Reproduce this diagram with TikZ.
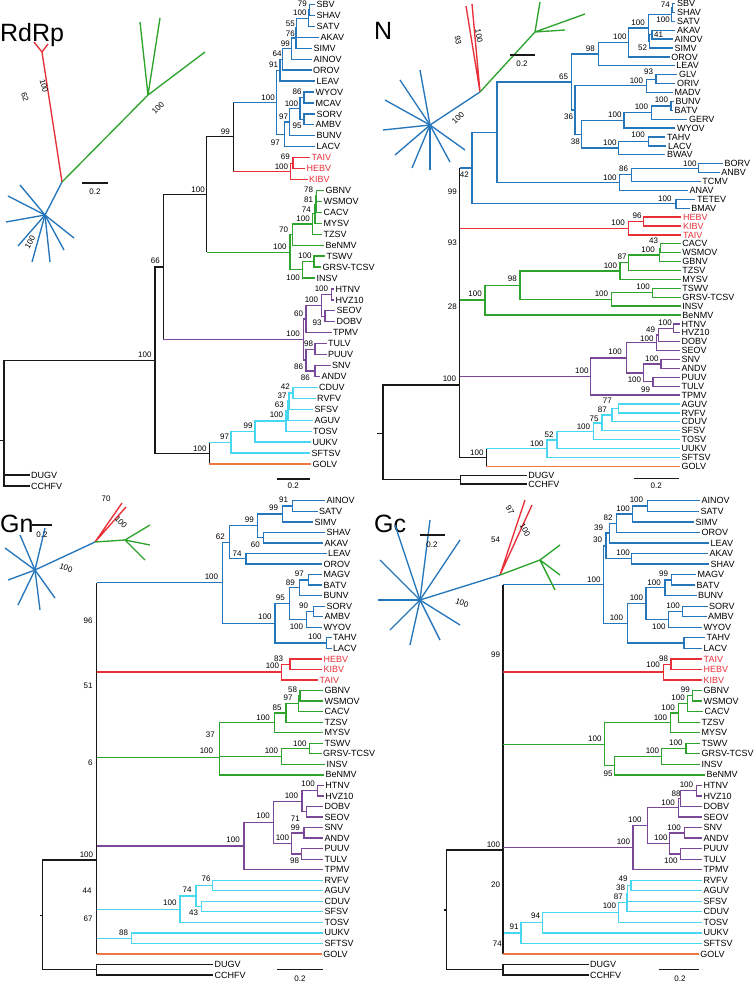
\documentclass[tikz,border=0pt]{standalone}
\usepackage{fontspec}
\setmainfont{Liberation Sans}
\definecolor{Cb}{RGB}{38,118,188}
\definecolor{Cr}{RGB}{232,48,56}
\definecolor{Cg}{RGB}{46,164,46}
\definecolor{Cp}{RGB}{122,72,152}
\definecolor{Cc}{RGB}{72,214,240}
\definecolor{Co}{RGB}{236,120,64}
\definecolor{Ck}{RGB}{25,25,25}
\newcount\bsc
\newcommand\tp[5][]{\coordinate (#2) at (#4,#5);\node[tl,#1] (#2t) at (#2) {#3};}
\newcommand\bs[3]{\global\advance\bsc by 1\relax\node[bsl] (bs\the\bsc) at (#1,#2) {#3};}
\newcommand\br[3]{\foreach \ch in {#3}{\draw[#1] (#2) |- (\ch);}}
\newcommand\cl[3]{\draw[bk] (#2) -- (#2 |- #3);\draw[#1] (#2 |- #3) -- (#3);}
\tikzset{
 tl/.style={anchor=west,inner sep=1.5pt,font=\fontsize{9}{10}\selectfont},
 bsl/.style={anchor=east,inner sep=0pt,font=\fontsize{8}{9}\selectfont},
 rl/.style={inner sep=0pt,font=\fontsize{8}{9}\selectfont},
 ttl/.style={anchor=base west,inner sep=0pt,font=\fontsize{25}{25}\selectfont},
 lb/.style={draw=Cb,line width=1.35pt},
 lr/.style={draw=Cr,line width=1.35pt},
 lg/.style={draw=Cg,line width=1.35pt},
 lp/.style={draw=Cp,line width=1.35pt},
 lc/.style={draw=Cc,line width=1.35pt},
 lo/.style={draw=Co,line width=1.35pt},
 bk/.style={draw=Ck,line width=1.35pt},
 sbar/.style={draw=Ck,line width=1.35pt},
}
\begin{document}
\begin{tikzpicture}[x=1pt,y=-1pt]
\useasboundingbox (0,0) rectangle (754,983);
% ================= RdRp =================
\node[ttl] (tA) at (0,41) {RdRp};
\tp{aSBV}{SBV}{315}{4.5}
\tp{aSHAV}{SHAV}{315}{15.4}
\tp{aSATV}{SATV}{315}{26.4}
\tp{aAKAV}{AKAV}{319}{37.3}
\tp{aSIMV}{SIMV}{312}{48.3}
\tp{aAINOV}{AINOV}{312}{59.2}
\tp{aOROV}{OROV}{311.5}{70.1}
\tp{aLEAV}{LEAV}{315}{81.1}
\tp{aWYOV}{WYOV}{314}{92}
\tp{aMCAV}{MCAV}{314}{103}
\tp{aSORV}{SORV}{315}{113.9}
\tp{aAMBV}{AMBV}{314}{124.8}
\tp{aBUNV}{BUNV}{315}{135.8}
\tp{aLACV}{LACV}{315}{146.7}
\tp[text=Cr]{aTAIV}{TAIV}{310}{157.7}
\tp[text=Cr]{aHEBV}{HEBV}{305}{168.6}
\tp[text=Cr]{aKIBV}{KIBV}{307.5}{179.5}
\tp{aGBNV}{GBNV}{324}{190.5}
\tp{aWSMOV}{WSMOV}{322}{201.4}
\tp{aCACV}{CACV}{322}{212.4}
\tp{aMYSV}{MYSV}{322}{223.3}
\tp{aTZSV}{TZSV}{322}{234.2}
\tp{aBeNMV}{BeNMV}{324}{245.2}
\tp{aTSWV}{TSWV}{325}{256.1}
\tp{aGRSV}{GRSV-TCSV}{321}{267.1}
\tp{aINSV}{INSV}{315}{278}
\tp{aHTNV}{HTNV}{334}{289}
\tp{aHVZ}{HVZ10}{334}{299.9}
\tp{aSEOV}{SEOV}{335}{310.8}
\tp{aDOBV}{DOBV}{335}{321.8}
\tp{aTPMV}{TPMV}{331.5}{332.7}
\tp{aTULV}{TULV}{326.5}{343.7}
\tp{aPUUV}{PUUV}{326.5}{354.6}
\tp{aSNV}{SNV}{330.5}{365.5}
\tp{aANDV}{ANDV}{320}{376.5}
\tp{aCDUV}{CDUV}{317.5}{387.4}
\tp{aRVFV}{RVFV}{315.5}{398.4}
\tp{aSFSV}{SFSV}{313}{409.3}
\tp{aAGUV}{AGUV}{313}{420.2}
\tp{aTOSV}{TOSV}{311.5}{431.2}
\tp{aUUKV}{UUKV}{311}{442.1}
\tp{aSFTSV}{SFTSV}{310}{453.1}
\tp{aGOLV}{GOLV}{311}{464}
\tp{aDUGV}{DUGV}{29.5}{474.9}
\tp{aCCHFV}{CCHFV}{29.5}{485.9}
\coordinate (a79) at (309.3,9.95);
\coordinate (a100s) at (308.3,18.2);
\coordinate (a55) at (296.7,27.7);
\coordinate (a76) at (296,38);
\coordinate (a99) at (291.7,48.6);
\coordinate (a64) at (282.7,59.4);
\coordinate (a91) at (280,70.2);
\coordinate (a86) at (304,97.5);
\coordinate (a95) at (304,119.4);
\coordinate (a100w) at (300,108.4);
\coordinate (a97a) at (289.3,122.1);
\coordinate (a97b) at (284.3,134.4);
\coordinate (aA) at (276.7,102.3);
\coordinate (aR2) at (293,163.2);
\coordinate (aR1) at (290.5,171.3);
\coordinate (a99b) at (233.3,136.8);
\coordinate (aG78) at (316.7,196);
\coordinate (aG81) at (316,204.2);
\coordinate (aG74) at (315,213.7);
\coordinate (aG100a) at (312.5,224);
\coordinate (aG70) at (292.3,234.6);
\coordinate (aG100b) at (314,261.6);
\coordinate (aG100c) at (302.7,269.8);
\coordinate (aG) at (290,252.2);
\coordinate (aN100) at (206.7,194.5);
\coordinate (aP1) at (331.7,294.5);
\coordinate (aP2) at (325,316.3);
\coordinate (aP3) at (321.7,305.4);
\coordinate (aP4) at (306,319);
\coordinate (aP5) at (315,349.2);
\coordinate (aP6) at (315,371);
\coordinate (aP7) at (306,360.1);
\coordinate (aP) at (303.3,339.6);
\coordinate (a66) at (163.3,267);
\coordinate (aC5) at (293,392.9);
\coordinate (aC4) at (289,401.1);
\coordinate (aC3) at (288,410.7);
\coordinate (aC2) at (286,420.9);
\coordinate (aC1) at (255,431.5);
\coordinate (aC0) at (231,442.3);
\coordinate (aNb) at (209.3,453.2);
\coordinate (aN1) at (155,360.3);
\coordinate (aRt) at (4,440.7);
\coordinate (aRs) at (0,440.7);
\br{lb}{a79}{aSBV,aSHAV}
\br{lb}{a100s}{a79,aSATV}
\br{lb}{a55}{a100s,aAKAV}
\br{lb}{a76}{a55,aSIMV}
\br{lb}{a99}{a76,aAINOV}
\br{lb}{a64}{a99,aOROV}
\br{lb}{a91}{a64,aLEAV}
\br{lb}{a86}{aWYOV,aMCAV}
\br{lb}{a95}{aSORV,aAMBV}
\br{lb}{a100w}{a86,a95}
\br{lb}{a97a}{a100w,aBUNV}
\br{lb}{a97b}{a97a,aLACV}
\br{lb}{aA}{a91,a97b}
\br{lr}{aR2}{aTAIV,aHEBV}
\br{lr}{aR1}{aR2,aKIBV}
\cl{lb}{a99b}{aA}
\cl{lr}{a99b}{aR1}
\br{lg}{aG78}{aGBNV,aWSMOV}
\br{lg}{aG81}{aG78,aCACV}
\br{lg}{aG74}{aG81,aMYSV}
\br{lg}{aG100a}{aG74,aTZSV}
\br{lg}{aG70}{aG100a,aBeNMV}
\br{lg}{aG100b}{aTSWV,aGRSV}
\br{lg}{aG100c}{aG100b,aINSV}
\br{lg}{aG}{aG70,aG100c}
\cl{lg}{aN100}{aG}
\br{bk}{aN100}{a99b}
\br{lp}{aP1}{aHTNV,aHVZ}
\br{lp}{aP2}{aSEOV,aDOBV}
\br{lp}{aP3}{aP1,aP2}
\br{lp}{aP4}{aP3,aTPMV}
\br{lp}{aP5}{aTULV,aPUUV}
\br{lp}{aP6}{aSNV,aANDV}
\br{lp}{aP7}{aP5,aP6}
\br{lp}{aP}{aP4,aP7}
\br{bk}{a66}{aN100}
\cl{lp}{a66}{aP}
\br{lc}{aC5}{aCDUV,aRVFV}
\br{lc}{aC4}{aC5,aSFSV}
\br{lc}{aC3}{aC4,aAGUV}
\br{lc}{aC2}{aC3,aTOSV}
\br{lc}{aC1}{aC2,aUUKV}
\br{lc}{aC0}{aC1,aSFTSV}
\cl{lc}{aNb}{aC0}
\cl{lo}{aNb}{aGOLV}
\br{bk}{aN1}{a66,aNb}
\br{bk}{aRt}{aN1,aDUGV,aCCHFV}
\draw[bk] (aRs) -- (aRt);
\bs{307}{3.5}{79}\bs{306.7}{12.7}{100}\bs{295}{23.3}{55}\bs{295}{33.3}{76}
\bs{290}{43.3}{99}\bs{281.7}{53.3}{64}\bs{278.3}{65}{91}\bs{275}{97.3}{100}
\bs{301.7}{91.7}{86}\bs{298.3}{103.3}{100}\bs{288.3}{116.7}{97}\bs{301.7}{126}{95}
\bs{280}{142.7}{97}\bs{230}{131.7}{99}\bs{290}{156.7}{69}\bs{288.3}{166.5}{100}
\bs{205}{189.3}{100}\bs{313.3}{190}{78}\bs{313.3}{199.3}{81}\bs{311}{209.3}{74}
\bs{310}{219}{100}\bs{288.3}{230}{70}\bs{286.7}{246.7}{100}\bs{311.7}{256}{100}
\bs{300}{277.7}{100}\bs{328.3}{289}{100}\bs{318.3}{300}{100}\bs{303.3}{314}{60}
\bs{321.7}{322.3}{93}\bs{160}{261}{66}\bs{300}{334}{100}\bs{313.3}{343.3}{98}
\bs{303.3}{366.7}{86}\bs{310}{377.3}{86}\bs{151.7}{354.3}{100}\bs{290}{386.7}{42}
\bs{286.7}{395.7}{37}\bs{284}{405}{63}\bs{283.3}{415}{100}\bs{252.7}{426}{99}
\bs{229.3}{436.7}{97}\bs{206.7}{448.3}{100}
\coordinate (aS1) at (276.7,479);\coordinate (aS2) at (310,479);
\draw[sbar] (aS1) -- (aS2);
\node[rl] (aSl) at (293.3,486) {0.2};
% inset RdRp
\coordinate (aiB) at (45,215);\coordinate (aiJ) at (62,182);
\coordinate (aiR) at (42,52);\coordinate (aiG) at (148,95);
\foreach \p in {(8,196),(6,222),(18,246),(32,262),(50,262),(64,250),(74,238),(20,185)} \draw[lb] (aiB) -- \p;
\draw[lb] (aiB) -- (aiJ);
\draw[lr] (aiJ) -- (aiR) -- (34,42) (aiR) -- (48,44);
\draw[lg] (aiJ) -- (aiG) -- (140,22) (aiG) -- (205,52) (aiG)--(160,18);
\node[rl,rotate=-75] (aiL1) at (25,97) {62};
\node[rl,rotate=-75] (aiL2) at (44,86) {100};
\node[rl,rotate=45] (aiL3) at (158,108) {100};
\node[rl,rotate=60] (aiL4) at (30,242) {100};
\coordinate (aiS1) at (82,183);\coordinate (aiS2) at (108,183);
\draw[sbar] (aiS1) -- (aiS2);
\node[rl] (aiSl) at (95,192) {0.2};
% ================= N =================
\node[ttl] (tB) at (374,39) {N};
\tp{bSBV}{SBV}{675.3}{3.5}
\tp{bSHAV}{SHAV}{675.3}{12.4}
\tp{bSATV}{SATV}{675.3}{21.3}
\tp{bAKAV}{AKAV}{675.3}{30.2}
\tp{bAINOV}{AINOV}{673}{39.1}
\tp{bSIMV}{SIMV}{673}{48}
\tp{bOROV}{OROV}{669.7}{56.9}
\tp{bLEAV}{LEAV}{674.7}{65.8}
\tp{bGLV}{GLV}{677.3}{74.7}
\tp{bORIV}{ORIV}{675.3}{83.6}
\tp{bMADV}{MADV}{673}{92.5}
\tp{bBUNV}{BUNV}{674}{101.4}
\tp{bBATV}{BATV}{673}{110.3}
\tp{bGERV}{GERV}{687.3}{119.2}
\tp{bWYOV}{WYOV}{675.3}{128.1}
\tp{bTAHV}{TAHV}{665.3}{137}
\tp{bLACV}{LACV}{666.3}{145.9}
\tp{bBWAV}{BWAV}{665.3}{154.8}
\tp{bBORV}{BORV}{723}{163.7}
\tp{bANBV}{ANBV}{719.7}{172.6}
\tp{bTCMV}{TCMV}{700.7}{181.5}
\tp{bANAV}{ANAV}{688}{190.4}
\tp{bTETEV}{TETEV}{695.3}{199.3}
\tp{bBMAV}{BMAV}{689.7}{208.2}
\tp[text=Cr]{bHEBV}{HEBV}{681.3}{217.1}
\tp[text=Cr]{bKIBV}{KIBV}{681.3}{226}
\tp[text=Cr]{bTAIV}{TAIV}{681.3}{234.9}
\tp{bCACV}{CACV}{680.7}{243.8}
\tp{bWSMOV}{WSMOV}{680.7}{252.7}
\tp{bGBNV}{GBNV}{680.7}{261.6}
\tp{bTZSV}{TZSV}{680.7}{270.5}
\tp{bMYSV}{MYSV}{680.7}{279.4}
\tp{bTSWV}{TSWV}{680.7}{288.3}
\tp{bGRSV}{GRSV-TCSV}{680.7}{297.2}
\tp{bINSV}{INSV}{680.7}{306.1}
\tp{bBeNMV}{BeNMV}{680.7}{315}
\tp{bHTNV}{HTNV}{680}{323.9}
\tp{bHVZ}{HVZ10}{680}{332.8}
\tp{bDOBV}{DOBV}{680}{341.7}
\tp{bSEOV}{SEOV}{680}{350.6}
\tp{bSNV}{SNV}{680}{359.5}
\tp{bANDV}{ANDV}{680}{368.4}
\tp{bPUUV}{PUUV}{680}{377.3}
\tp{bTULV}{TULV}{680}{386.2}
\tp{bTPMV}{TPMV}{680}{395.1}
\tp{bAGUV}{AGUV}{680}{404}
\tp{bRVFV}{RVFV}{680}{412.9}
\tp{bCDUV}{CDUV}{680}{421.8}
\tp{bSFSV}{SFSV}{680}{430.7}
\tp{bTOSV}{TOSV}{680}{439.6}
\tp{bUUKV}{UUKV}{680}{448.5}
\tp{bSFTSV}{SFTSV}{680}{457.4}
\tp{bGOLV}{GOLV}{680}{466.3}
\tp{bDUGV}{DUGV}{526.7}{475.2}
\tp{bCCHFV}{CCHFV}{526.7}{484.1}
\coordinate (bn74) at (672.7,8);
\coordinate (bn100a) at (671.7,14.6);
\coordinate (bn41) at (652,34.7);
\coordinate (bn52) at (649.3,41.3);
\coordinate (bn100b) at (648.3,28);
\coordinate (bn100c) at (628.3,42.4);
\coordinate (bn98) at (598.3,54.1);
\coordinate (bn93) at (656,79.2);
\coordinate (bn100d) at (646.7,85.8);
\coordinate (bn100e) at (671,105.9);
\coordinate (bn100f) at (651.7,112.5);
\coordinate (bn100g) at (624,120.3);
\coordinate (bn100h) at (648.3,141.5);
\coordinate (bn100i) at (618.3,148.1);
\coordinate (bn38) at (581.7,134.2);
\coordinate (bn36) at (575,110);
\coordinate (bn65) at (571.7,82.1);
\coordinate (bn100j) at (698.3,168.2);
\coordinate (bn86) at (631.7,174.8);
\coordinate (bn100k) at (619.3,182.6);
\coordinate (bn100l) at (676,203.8);
\coordinate (bn96) at (643.3,221.6);
\coordinate (bnR) at (628.3,228.2);
\coordinate (bn43) at (660.7,248.2);
\coordinate (bn100m) at (659.3,254.9);
\coordinate (bn87) at (628.3,262.7);
\coordinate (bn100n) at (620,271);
\coordinate (bn100o) at (652.7,292.7);
\coordinate (bn100p) at (611.7,299.4);
\coordinate (bnP1) at (673.7,328.4);
\coordinate (bnP2) at (658.7,335);
\coordinate (bnP3) at (656.3,342.8);
\coordinate (bnP4) at (661,364);
\coordinate (bnP5) at (653,381.8);
\coordinate (bnP6) at (643.7,372.9);
\coordinate (bnP7) at (626.3,357.9);
\coordinate (bnP) at (590.3,376.5);
\coordinate (bnC5) at (618.7,408.5);
\coordinate (bnC4) at (612,415.1);
\coordinate (bnC3) at (602,422.9);
\coordinate (bnC2) at (593.7,431.3);
\coordinate (bnC1) at (557,439.9);
\coordinate (bnC0) at (547,448.6);
\coordinate (bnCG) at (486.3,457.5);
\coordinate (bnBA) at (497,132.4);
\coordinate (bnBl) at (472,168.1);
\coordinate (bnGG) at (520,285.2);
\coordinate (bnGr) at (485,300.1);
\coordinate (bnI) at (459.7,385);
\coordinate (bnO) at (460.3,479.6);
\coordinate (bnRt) at (383,433.3);
\coordinate (bnRs) at (377,433.3);
\br{lb}{bn74}{bSBV,bSHAV}
\br{lb}{bn100a}{bn74,bSATV}
\br{lb}{bn41}{bAKAV,bAINOV}
\br{lb}{bn52}{bn41,bSIMV}
\br{lb}{bn100b}{bn100a,bn52}
\br{lb}{bn100c}{bn100b,bOROV}
\br{lb}{bn98}{bn100c,bLEAV}
\br{lb}{bn93}{bGLV,bORIV}
\br{lb}{bn100d}{bn93,bMADV}
\br{lb}{bn100e}{bBUNV,bBATV}
\br{lb}{bn100f}{bn100e,bGERV}
\br{lb}{bn100g}{bn100f,bWYOV}
\br{lb}{bn100h}{bTAHV,bLACV}
\br{lb}{bn100i}{bn100h,bBWAV}
\br{lb}{bn38}{bn100g,bn100i}
\br{lb}{bn36}{bn100d,bn38}
\br{lb}{bn65}{bn98,bn36}
\br{lb}{bn100j}{bBORV,bANBV}
\br{lb}{bn86}{bn100j,bTCMV}
\br{lb}{bn100k}{bn86,bANAV}
\br{lb}{bn100l}{bTETEV,bBMAV}
\br{lb}{bnBA}{bn65,bn100k}
\br{lb}{bnBl}{bnBA,bn100l}
\br{lr}{bn96}{bHEBV,bKIBV}
\br{lr}{bnR}{bn96,bTAIV}
\br{lg}{bn43}{bCACV,bWSMOV}
\br{lg}{bn100m}{bn43,bGBNV}
\br{lg}{bn87}{bn100m,bTZSV}
\br{lg}{bn100n}{bn87,bMYSV}
\br{lg}{bn100o}{bTSWV,bGRSV}
\br{lg}{bn100p}{bn100o,bINSV}
\br{lg}{bnGG}{bn100n,bn100p}
\br{lg}{bnGr}{bnGG,bBeNMV}
\br{lp}{bnP1}{bHTNV,bHVZ}
\br{lp}{bnP2}{bnP1,bDOBV}
\br{lp}{bnP3}{bnP2,bSEOV}
\br{lp}{bnP4}{bSNV,bANDV}
\br{lp}{bnP5}{bPUUV,bTULV}
\br{lp}{bnP6}{bnP4,bnP5}
\br{lp}{bnP7}{bnP3,bnP6}
\br{lp}{bnP}{bnP7,bTPMV}
\br{lc}{bnC5}{bAGUV,bRVFV}
\br{lc}{bnC4}{bnC5,bCDUV}
\br{lc}{bnC3}{bnC4,bSFSV}
\br{lc}{bnC2}{bnC3,bTOSV}
\br{lc}{bnC1}{bnC2,bUUKV}
\br{lc}{bnC0}{bnC1,bSFTSV}
\cl{lc}{bnCG}{bnC0}
\cl{lo}{bnCG}{bGOLV}
\cl{lb}{bnI}{bnBl}
\cl{lr}{bnI}{bnR}
\cl{lg}{bnI}{bnGr}
\cl{lp}{bnI}{bnP}
\br{bk}{bnI}{bnCG}
\br{bk}{bnO}{bDUGV,bCCHFV}
\br{bk}{bnRt}{bnI,bnO}
\draw[bk] (bnRs) -- (bnRt);
\bs{670}{5}{74}\bs{670}{20}{100}\bs{645}{22.7}{100}\bs{663.3}{35}{41}
\bs{647.3}{47.3}{52}\bs{626.7}{36.7}{100}\bs{595}{48.3}{98}\bs{568.3}{76.7}{65}
\bs{653.3}{71.7}{93}\bs{643.3}{81}{100}\bs{573.3}{116.7}{36}\bs{668.3}{99.3}{100}
\bs{648.3}{106.7}{100}\bs{621.7}{115}{100}\bs{580}{141.7}{38}\bs{645}{135}{100}
\bs{616.7}{142.7}{100}\bs{696.7}{163.3}{100}\bs{628.3}{169}{86}\bs{616.7}{177.3}{100}
\bs{671.7}{198.3}{100}\bs{641.7}{216}{96}\bs{625}{222.7}{100}\bs{658.3}{241}{43}
\bs{655}{250}{100}\bs{626.7}{256.7}{87}\bs{617.3}{266}{100}\bs{650}{286.7}{100}
\bs{608.3}{293.3}{100}\bs{672}{322.7}{100}\bs{655.3}{329.3}{49}\bs{653.7}{338.3}{100}
\bs{622}{351.7}{100}\bs{658.7}{358.3}{100}\bs{588.7}{370.7}{100}\bs{641.3}{380}{100}
\bs{650.3}{389.3}{99}\bs{456.3}{378.3}{100}\bs{612}{401}{77}\bs{607}{410}{87}
\bs{598.7}{419}{75}\bs{590.3}{426.7}{100}\bs{553.7}{434.3}{52}\bs{543.7}{443.3}{100}
\bs{483.7}{452.7}{100}
\bs{469}{175}{42}\bs{457}{192}{99}\bs{457}{242.5}{93}\bs{457}{306.5}{28}
\bs{517}{279}{98}\bs{482}{294}{100}
\coordinate (bS1) at (633.7,478.3);\coordinate (bS2) at (678.7,478.3);
\draw[sbar] (bS1) -- (bS2);
\node[rl] (bSl) at (656.3,485.5) {0.2};
% inset N
\coordinate (biB) at (430,125);\coordinate (biJ) at (480,92);
\foreach \p in {(385,100),(383,130),(395,155),(412,168),(430,170),(450,162),(465,150),(400,80),(420,70)} \draw[lb] (biB) -- \p;
\draw[lb] (biB) -- (biJ);
\draw[lr] (biJ) -- (466,6) (biJ) -- (472,4);
\draw[lg] (biJ) -- (535,32) -- (540,2) (535,32) -- (585,14) (535,32)--(565,30);
\node[rl,rotate=-80] (biL1) at (458,40) {93};
\node[rl,rotate=-80] (biL2) at (479,36) {100};
\node[rl,rotate=45] (biL3) at (458,118) {100};
\coordinate (biS1) at (510,55);\coordinate (biS2) at (535,55);
\draw[sbar] (biS1) -- (biS2);
\node[rl] (biSl) at (522,64) {0.2};
% ================= Gn =================
\node[ttl] (tC) at (0,532) {Gn};
\tp{cAINOV}{AINOV}{325}{500.8}
\tp{cSATV}{SATV}{317.5}{511.3}
\tp{cSIMV}{SIMV}{313}{521.9}
\tp{cSHAV}{SHAV}{325}{532.4}
\tp{cAKAV}{AKAV}{323}{543}
\tp{cLEAV}{LEAV}{326.5}{553.5}
\tp{cOROV}{OROV}{322}{564}
\tp{cMAGV}{MAGV}{322}{574.6}
\tp{cBATV}{BATV}{322}{585.1}
\tp{cBUNV}{BUNV}{322}{595.7}
\tp{cSORV}{SORV}{325}{606.2}
\tp{cAMBV}{AMBV}{323}{616.7}
\tp{cWYOV}{WYOV}{322}{627.3}
\tp{cTAHV}{TAHV}{331.5}{637.8}
\tp{cLACV}{LACV}{331.5}{648.4}
\tp[text=Cr]{cHEBV}{HEBV}{322}{658.9}
\tp[text=Cr]{cKIBV}{KIBV}{322}{669.4}
\tp[text=Cr]{cTAIV}{TAIV}{318}{680}
\tp{cGBNV}{GBNV}{323}{690.5}
\tp{cWSMOV}{WSMOV}{323}{701.1}
\tp{cCACV}{CACV}{323}{711.6}
\tp{cTZSV}{TZSV}{323}{722.2}
\tp{cMYSV}{MYSV}{323}{732.7}
\tp{cTSWV}{TSWV}{323}{743.3}
\tp{cGRSV}{GRSV-TCSV}{321.5}{753.8}
\tp{cINSV}{INSV}{325}{764.3}
\tp{cBeNMV}{BeNMV}{324}{774.9}
\tp{cHTNV}{HTNV}{323.7}{785.4}
\tp{cHVZ}{HVZ10}{323.7}{795.9}
\tp{cDOBV}{DOBV}{323}{806.5}
\tp{cSEOV}{SEOV}{323}{817}
\tp{cSNV}{SNV}{323}{827.6}
\tp{cANDV}{ANDV}{323}{838.1}
\tp{cPUUV}{PUUV}{323}{848.6}
\tp{cTULV}{TULV}{323}{859.2}
\tp{cTPMV}{TPMV}{323}{869.7}
\tp{cRVFV}{RVFV}{323}{880.2}
\tp{cAGUV}{AGUV}{323}{890.7}
\tp{cCDUV}{CDUV}{323}{901.2}
\tp{cSFSV}{SFSV}{323}{911.8}
\tp{cTOSV}{TOSV}{323}{922.3}
\tp{cUUKV}{UUKV}{323}{932.9}
\tp{cSFTSV}{SFTSV}{323}{943.4}
\tp{cGOLV}{GOLV}{321.7}{953.9}
\tp{cDUGV}{DUGV}{213}{964.5}
\tp{cCCHFV}{CCHFV}{213}{975.1}
\coordinate (c91) at (292.7,506.1);
\coordinate (c99a) at (282.7,514);
\coordinate (c60) at (263.3,537.7);
\coordinate (c99b) at (257.3,525.8);
\coordinate (c74) at (246,558.8);
\coordinate (c62) at (229.3,542.3);
\coordinate (c97) at (308.3,579.9);
\coordinate (c89) at (299.3,587.8);
\coordinate (c90) at (313.3,611.5);
\coordinate (c100a) at (306.7,619.4);
\coordinate (c95) at (289.3,603.6);
\coordinate (c100b) at (326.7,643.1);
\coordinate (c100c) at (275,623.3);
\coordinate (cB) at (222.7,582.8);
\coordinate (c83) at (290,664.2);
\coordinate (cR) at (281.7,672.1);
\coordinate (c58) at (300,695.8);
\coordinate (c97g) at (298.3,703.7);
\coordinate (c85) at (286,713);
\coordinate (c100g) at (274.3,722.8);
\coordinate (c100h) at (309.3,748.5);
\coordinate (c100i) at (281.7,756.4);
\coordinate (c37) at (219.3,739.6);
\coordinate (cG) at (219.3,757.3);
\coordinate (cP1) at (317.3,790.7);
\coordinate (cP2) at (306.7,811.8);
\coordinate (cP3) at (302,801.2);
\coordinate (cP4) at (304,832.9);
\coordinate (cP5) at (301.7,853.9);
\coordinate (cP6) at (291.7,843.4);
\coordinate (cP7) at (273.3,822.3);
\coordinate (cP) at (244,846);
\coordinate (cC76) at (212.7,885.5);
\coordinate (cC43) at (201.7,906.5);
\coordinate (cC74) at (196,896);
\coordinate (cCA) at (180,909.2);
\coordinate (cCB) at (131.7,938.2);
\coordinate (cK) at (96.7,860);
\coordinate (cO) at (96.7,969.8);
\coordinate (cRt) at (42.7,915.7);
\coordinate (cRs) at (40,915.7);
\br{lb}{c91}{cAINOV,cSATV}
\br{lb}{c99a}{c91,cSIMV}
\br{lb}{c60}{cSHAV,cAKAV}
\br{lb}{c99b}{c99a,c60}
\br{lb}{c74}{cLEAV,cOROV}
\br{lb}{c62}{c99b,c74}
\br{lb}{c97}{cMAGV,cBATV}
\br{lb}{c89}{c97,cBUNV}
\br{lb}{c90}{cSORV,cAMBV}
\br{lb}{c100a}{c90,cWYOV}
\br{lb}{c95}{c89,c100a}
\br{lb}{c100b}{cTAHV,cLACV}
\br{lb}{c100c}{c95,c100b}
\br{lb}{cB}{c62,c100c}
\br{lr}{c83}{cHEBV,cKIBV}
\br{lr}{cR}{c83,cTAIV}
\br{lg}{c58}{cGBNV,cWSMOV}
\br{lg}{c97g}{c58,cCACV}
\br{lg}{c85}{c97g,cTZSV}
\br{lg}{c100g}{c85,cMYSV}
\br{lg}{c100h}{cTSWV,cGRSV}
\br{lg}{c100i}{c100h,cINSV}
\br{lg}{c37}{c100g,c100i}
\br{lg}{cG}{c37,cBeNMV}
\br{lp}{cP1}{cHTNV,cHVZ}
\br{lp}{cP2}{cDOBV,cSEOV}
\br{lp}{cP3}{cP1,cP2}
\br{lp}{cP4}{cSNV,cANDV}
\br{lp}{cP5}{cPUUV,cTULV}
\br{lp}{cP6}{cP4,cP5}
\br{lp}{cP7}{cP3,cP6}
\br{lp}{cP}{cP7,cTPMV}
\br{lc}{cC76}{cRVFV,cAGUV}
\br{lc}{cC43}{cCDUV,cSFSV}
\br{lc}{cC74}{cC76,cC43}
\br{lc}{cCA}{cC74,cTOSV}
\br{lc}{cCB}{cUUKV,cSFTSV}
\cl{lb}{cK}{cB}
\cl{lr}{cK}{cR}
\cl{lg}{cK}{cG}
\cl{lp}{cK}{cP}
\cl{lc}{cK}{cCA}
\cl{lc}{cK}{cCB}
\cl{lo}{cK}{cGOLV}
\br{bk}{cO}{cDUGV,cCCHFV}
\br{bk}{cRt}{cK,cO}
\draw[bk] (cRs) -- (cRt);
\bs{288.3}{500}{91}\bs{278.3}{507.3}{99}\bs{254}{520}{99}\bs{225}{536.7}{62}
\bs{260}{545}{60}\bs{241.7}{553.3}{74}\bs{218.3}{576.7}{100}\bs{304}{574}{97}
\bs{295}{582.7}{89}\bs{285}{597.3}{95}\bs{308.3}{605.3}{90}\bs{271.7}{616.7}{100}
\bs{303.3}{626.7}{100}\bs{321.7}{636.7}{100}\bs{283.3}{658.3}{83}\bs{279.3}{665.7}{100}
\bs{297.3}{689.3}{58}\bs{292.7}{697.3}{97}\bs{281.7}{707.3}{85}\bs{270}{717.7}{100}
\bs{215}{734.3}{37}\bs{213.3}{751}{100}\bs{306.7}{743.3}{100}\bs{278.3}{751}{100}
\bs{315}{783.3}{100}\bs{298.3}{795.7}{100}\bs{270}{816}{100}\bs{300}{818.3}{71}
\bs{300}{827.3}{99}\bs{289.3}{837.3}{100}\bs{299.3}{861}{98}\bs{240}{840}{100}
\bs{93.3}{854.3}{100}\bs{91.7}{890.7}{44}\bs{92.7}{918.3}{67}\bs{210.7}{878.3}{76}
\bs{191.7}{889.3}{74}\bs{176.7}{902.3}{100}\bs{198.3}{912.3}{43}\bs{128.3}{932.3}{88}
\bs{92.7}{621}{96}\bs{92.7}{686}{51}\bs{92.7}{763}{6}
\coordinate (cS1) at (277.3,969.3);\coordinate (cS2) at (322.7,969.3);
\draw[sbar] (cS1) -- (cS2);
\node[rl] (cSl) at (300,979) {0.2};
% inset Gn
\coordinate (ciB) at (35,570);\coordinate (ciJ) at (95,542);
\foreach \p in {(5,548),(8,580),(18,605),(40,610),(55,598),(20,535),(45,528)} \draw[lb] (ciB) -- \p;
\draw[lb] (ciB) -- (ciJ);
\draw[lr] (ciJ) -- (122,503) (ciJ) -- (126,507);
\draw[lg] (ciJ) -- (125,540) -- (150,525) (125,540) -- (150,545) (125,540)--(145,560);
\node[rl] (ciL1) at (106,499) {70};
\node[rl,rotate=-45] (ciL2) at (121,522) {100};
\node[rl,rotate=-20] (ciL3) at (66,568) {100};
\coordinate (ciS1) at (32,525);\coordinate (ciS2) at (52,525);
\draw[sbar] (ciS1) -- (ciS2);
\node[rl] (ciSl) at (42,535) {0.2};
% ================= Gc =================
\node[ttl] (tD) at (374,532) {Gc};
\tp{dAINOV}{AINOV}{700}{500.8}
\tp{dSATV}{SATV}{699}{511.3}
\tp{dSIMV}{SIMV}{694}{521.9}
\tp{dOROV}{OROV}{700}{532.4}
\tp{dLEAV}{LEAV}{709}{543}
\tp{dAKAV}{AKAV}{708}{553.5}
\tp{dSHAV}{SHAV}{709}{564}
\tp{dMAGV}{MAGV}{696}{574.6}
\tp{dBATV}{BATV}{695}{585.1}
\tp{dBUNV}{BUNV}{696.5}{595.7}
\tp{dSORV}{SORV}{707.5}{606.2}
\tp{dAMBV}{AMBV}{706.5}{616.7}
\tp{dWYOV}{WYOV}{702}{627.3}
\tp{dTAHV}{TAHV}{705}{637.8}
\tp{dLACV}{LACV}{702}{648.4}
\tp[text=Cr]{dTAIV}{TAIV}{702}{658.9}
\tp[text=Cr]{dHEBV}{HEBV}{702}{669.4}
\tp[text=Cr]{dKIBV}{KIBV}{702}{680}
\tp{dGBNV}{GBNV}{702}{690.5}
\tp{dWSMOV}{WSMOV}{702}{701.1}
\tp{dCACV}{CACV}{703}{711.6}
\tp{dTZSV}{TZSV}{700}{722.2}
\tp{dMYSV}{MYSV}{700}{732.7}
\tp{dTSWV}{TSWV}{700}{743.3}
\tp{dGRSV}{GRSV-TCSV}{700}{753.8}
\tp{dINSV}{INSV}{700}{764.3}
\tp{dBeNMV}{BeNMV}{705}{774.9}
\tp{dHTNV}{HTNV}{702}{785.4}
\tp{dHVZ}{HVZ10}{702}{795.9}
\tp{dDOBV}{DOBV}{702}{806.5}
\tp{dSEOV}{SEOV}{702}{817}
\tp{dSNV}{SNV}{702}{827.6}
\tp{dANDV}{ANDV}{702}{838.1}
\tp{dPUUV}{PUUV}{702}{848.6}
\tp{dTULV}{TULV}{702}{859.2}
\tp{dTPMV}{TPMV}{702}{869.7}
\tp{dRVFV}{RVFV}{702}{880.2}
\tp{dAGUV}{AGUV}{702}{890.7}
\tp{dSFSV}{SFSV}{702}{901.2}
\tp{dCDUV}{CDUV}{702}{911.8}
\tp{dTOSV}{TOSV}{702}{922.3}
\tp{dUUKV}{UUKV}{702}{932.9}
\tp{dSFTSV}{SFTSV}{702}{943.4}
\tp{dGOLV}{GOLV}{698.7}{953.9}
\tp{dDUGV}{DUGV}{588.5}{964.5}
\tp{dCCHFV}{CCHFV}{588.5}{975.1}
\coordinate (d100a) at (647.3,506.1);
\coordinate (d100b) at (632.7,514);
\coordinate (d82) at (616.7,523.2);
\coordinate (d39) at (609.3,533.1);
\coordinate (d100c) at (631.7,558.8);
\coordinate (d30) at (606,546);
\coordinate (d99) at (671.7,579.9);
\coordinate (d100d) at (665,587.8);
\coordinate (d100e) at (682.7,611.5);
\coordinate (d100f) at (668.3,619.4);
\coordinate (d100g) at (646,603.6);
\coordinate (d100h) at (684,643.1);
\coordinate (d100i) at (627.3,623.3);
\coordinate (dB) at (603.3,584.7);
\coordinate (d98) at (671,664.2);
\coordinate (dR) at (663.3,672.1);
\coordinate (d99g) at (692.3,695.8);
\coordinate (d100j) at (687.3,703.7);
\coordinate (d100k) at (678.3,713);
\coordinate (d100l) at (670.7,722.8);
\coordinate (d100m) at (686,748.5);
\coordinate (d100n) at (661.7,756.4);
\coordinate (d95) at (614.3,765.7);
\coordinate (dG) at (604.3,744.3);
\coordinate (dP1) at (696.7,790.7);
\coordinate (d88) at (680.7,798.6);
\coordinate (dP3) at (678.7,807.8);
\coordinate (dP4) at (684.3,832.9);
\coordinate (dP5) at (680.3,853.9);
\coordinate (dP6) at (669.7,843.4);
\coordinate (dP7) at (647.7,825.6);
\coordinate (dP) at (633,847.6);
\coordinate (d49) at (631,885.5);
\coordinate (d38) at (627.7,893.3);
\coordinate (d87) at (627,902.6);
\coordinate (d100o) at (618.7,912.4);
\coordinate (d94) at (542.7,922.6);
\coordinate (d91) at (521,933);
\coordinate (dK) at (503,850);
\coordinate (dO) at (503,969.8);
\coordinate (dRt) at (446.3,910);
\coordinate (dRs) at (443.5,910);
\br{lb}{d100a}{dAINOV,dSATV}
\br{lb}{d100b}{d100a,dSIMV}
\br{lb}{d82}{d100b,dOROV}
\br{lb}{d39}{d82,dLEAV}
\br{lb}{d100c}{dAKAV,dSHAV}
\br{lb}{d30}{d39,d100c}
\br{lb}{d99}{dMAGV,dBATV}
\br{lb}{d100d}{d99,dBUNV}
\br{lb}{d100e}{dSORV,dAMBV}
\br{lb}{d100f}{d100e,dWYOV}
\br{lb}{d100g}{d100d,d100f}
\br{lb}{d100h}{dTAHV,dLACV}
\br{lb}{d100i}{d100g,d100h}
\br{lb}{dB}{d30,d100i}
\br{lr}{d98}{dTAIV,dHEBV}
\br{lr}{dR}{d98,dKIBV}
\br{lg}{d99g}{dGBNV,dWSMOV}
\br{lg}{d100j}{d99g,dCACV}
\br{lg}{d100k}{d100j,dTZSV}
\br{lg}{d100l}{d100k,dMYSV}
\br{lg}{d100m}{dTSWV,dGRSV}
\br{lg}{d100n}{d100m,dINSV}
\br{lg}{d95}{d100n,dBeNMV}
\br{lg}{dG}{d100l,d95}
\br{lp}{dP1}{dHTNV,dHVZ}
\br{lp}{d88}{dP1,dDOBV}
\br{lp}{dP3}{d88,dSEOV}
\br{lp}{dP4}{dSNV,dANDV}
\br{lp}{dP5}{dPUUV,dTULV}
\br{lp}{dP6}{dP4,dP5}
\br{lp}{dP7}{dP3,dP6}
\br{lp}{dP}{dP7,dTPMV}
\br{lc}{d49}{dRVFV,dAGUV}
\br{lc}{d38}{d49,dSFSV}
\br{lc}{d87}{d38,dCDUV}
\br{lc}{d100o}{d87,dTOSV}
\br{lc}{d94}{d100o,dUUKV}
\br{lc}{d91}{d94,dSFTSV}
\cl{lb}{dK}{dB}
\cl{lr}{dK}{dR}
\cl{lg}{dK}{dG}
\cl{lp}{dK}{dP}
\cl{lc}{dK}{d91}
\cl{lo}{dK}{dGOLV}
\br{bk}{dO}{dDUGV,dCCHFV}
\br{bk}{dRt}{dK,dO}
\draw[bk] (dRs) -- (dRt);
\bs{643.3}{500}{100}\bs{630}{508.3}{100}\bs{612.7}{517.3}{82}\bs{603.3}{527.7}{39}
\bs{602.3}{540}{30}\bs{630}{552.7}{100}\bs{600.7}{579.3}{100}\bs{668.3}{574}{99}
\bs{661}{582.7}{100}\bs{643.3}{597.7}{100}\bs{680}{606}{100}\bs{665.7}{626.7}{100}
\bs{623.3}{617.3}{100}\bs{668.3}{658.3}{98}\bs{660}{665}{100}\bs{690}{689.3}{99}
\bs{685}{697.7}{100}\bs{675}{707.3}{100}\bs{667.3}{717.3}{100}\bs{601.7}{738.3}{100}
\bs{682.7}{742.7}{100}\bs{659.3}{751}{100}\bs{612.7}{773.3}{95}\bs{693.3}{785}{100}
\bs{680.7}{793.3}{88}\bs{675}{803}{100}\bs{641.7}{820}{100}\bs{681}{827.3}{100}
\bs{667.7}{837.3}{100}\bs{677.7}{860.7}{100}\bs{630.3}{841.7}{100}\bs{500.3}{844.3}{100}
\bs{500.3}{884.3}{20}\bs{502}{943.3}{74}\bs{627.7}{878.3}{49}\bs{625.3}{887.3}{38}
\bs{623}{896.7}{87}\bs{616.3}{906}{100}\bs{540.3}{916}{94}\bs{518.7}{926.7}{91}
\bs{500.3}{540}{54}\bs{500.3}{655}{99}
\coordinate (dS1) at (658.7,969.3);\coordinate (dS2) at (698.7,969.3);
\draw[sbar] (dS1) -- (dS2);
\node[rl] (dSl) at (680,979) {0.2};
% inset Gc
\coordinate (diB) at (420,600);\coordinate (diJ) at (500,575);
\foreach \p in {(380,560),(378,600),(390,630),(410,645),(440,640),(460,625),(395,525),(430,520),(460,540)} \draw[lb] (diB) -- \p;
\draw[lb] (diB) -- (diJ);
\draw[lr] (diJ) -- (525,500) (diJ) -- (532,505);
\draw[lg] (diJ) -- (540,560) -- (560,545) (540,560) -- (560,575) (540,560)--(555,590);
\node[rl,rotate=-60] (diL1) at (510,510) {97};
\node[rl,rotate=-60] (diL2) at (525,530) {100};
\node[rl,rotate=-20] (diL3) at (462,603) {100};
\coordinate (diS1) at (420,535);\coordinate (diS2) at (445,535);
\draw[sbar] (diS1) -- (diS2);
\node[rl] (diSl) at (432,545) {0.2};
\end{tikzpicture}
\end{document}
